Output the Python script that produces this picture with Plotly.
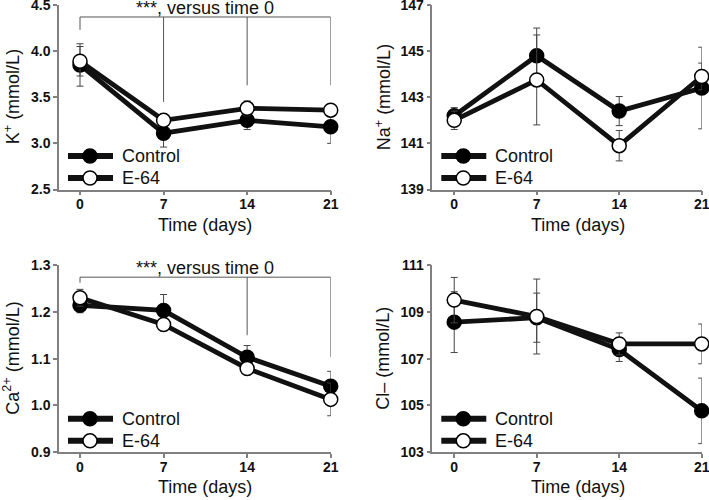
import plotly.graph_objects as go

# ---------------- data ----------------
days = [0, 7, 14, 21]
day_ticks = [0, 7, 14, 21]

k_control = [3.85, 3.11, 3.25, 3.18]
k_control_err = [0.23, 0.15, 0.10, 0.18]
k_e64 = [3.89, 3.25, 3.38, 3.36]
k_e64_err = [0.16, 0.05, 0.08, 0.05]

na_control = [142.2, 144.8, 142.4, 143.4]
na_control_err = [0.35, 1.2, 0.63, 1.77]
na_e64 = [142.0, 143.75, 140.9, 143.9]
na_e64_err = [0.4, 1.95, 0.66, 0.58]

ca_control = [1.214, 1.203, 1.103, 1.041]
ca_control_err = [0.016, 0.034, 0.025, 0.032]
ca_e64 = [1.230, 1.173, 1.079, 1.013]
ca_e64_err = [0.018, 0.012, 0.012, 0.035]

cl_control = [108.56, 108.75, 107.39, 104.77]
cl_control_err = [1.3, 1.05, 0.51, 1.4]
cl_e64 = [109.5, 108.8, 107.63, 107.63]
cl_e64_err = [0.97, 1.6, 0.47, 0.85]

k_ticks = [2.5, 3.0, 3.5, 4.0, 4.5]
k_ticklabels = ["2.5", "3.0", "3.5", "4.0", "4.5"]
na_ticks = [139, 141, 143, 145, 147]
ca_ticks = [0.9, 1.0, 1.1, 1.2, 1.3]
ca_ticklabels = ["0.9", "1.0", "1.1", "1.2", "1.3"]
cl_ticks = [103, 105, 107, 109, 111]

# significance brackets ("***, versus time 0")
k_bracket_level = 4.37
k_bracket_days = [0, 7, 14, 21]
k_bracket_ends = [4.23, 3.45, 3.63, 3.63]
ca_bracket_level = 1.274
ca_bracket_days = [0, 14, 21]
ca_bracket_ends = [1.262, 1.15, 1.104]
sig_text = "***, versus time 0"

series_names = ["Control", "E-64"]
series_fill = ["#000000", "#ffffff"]

# ---------------- layout geometry ----------------
W, H = 709, 500
FONT = "Liberation Sans, Arial, sans-serif"
INK = "#111111"
AXIS_GRAY = "#808080"
left_px = (59, 330.7)
right_px = (432.3, 701.7)
top_px = (5, 189.5)
bot_px = (265, 452.3)


def xdom(p):
    return [p[0] / W, p[1] / W]


def ydom(p):
    return [1 - p[1] / H, 1 - p[0] / H]


fig = go.Figure()

panels = [
    ("x", "y", k_control, k_control_err, k_e64, k_e64_err),
    ("x2", "y2", na_control, na_control_err, na_e64, na_e64_err),
    ("x3", "y3", ca_control, ca_control_err, ca_e64, ca_e64_err),
    ("x4", "y4", cl_control, cl_control_err, cl_e64, cl_e64_err),
]

for xa, ya, c, ce, e, ee in panels:
    for name, vals, errs, fill in [(series_names[0], c, ce, series_fill[0]),
                                   (series_names[1], e, ee, series_fill[1])]:
        fig.add_trace(go.Scatter(
            x=days, y=vals, name=name, xaxis=xa, yaxis=ya, showlegend=False,
            mode="lines+markers", cliponaxis=False,
            line=dict(color=INK, width=4.8),
            marker=dict(size=14, color=fill, line=dict(color="#000000", width=1.5)),
            error_y=dict(type="data", array=errs, visible=True, color="#444444",
                         thickness=1, width=3.5),
        ))

shapes = []
annotations = []

# brackets
for xr, yr, lvl, bdays, bends in [("x", "y", k_bracket_level, k_bracket_days, k_bracket_ends),
                                  ("x3", "y3", ca_bracket_level, ca_bracket_days, ca_bracket_ends)]:
    shapes.append(dict(type="line", xref=xr, yref=yr, x0=bdays[0], x1=bdays[-1], y0=lvl, y1=lvl,
                       line=dict(color="#555555", width=1)))
    for d, yend in zip(bdays, bends):
        shapes.append(dict(type="line", xref=xr, yref=yr, x0=d, x1=d, y0=lvl, y1=yend,
                           line=dict(color="#555555", width=1)))
    annotations.append(dict(text=sig_text, xref=xr, yref=yr, x=10.5, y=lvl, xanchor="center",
                            yanchor="bottom", showarrow=False, yshift=-2, borderpad=0,
                            font=dict(family=FONT, size=18, color=INK)))

# x axis titles
for xr, ypx in [("x", 225), ("x2", 225), ("x3", 487), ("x4", 487)]:
    annotations.append(dict(text="Time (days)", xref=xr, yref="paper", x=10.5, y=1 - ypx / H,
                            xanchor="center", yanchor="middle", showarrow=False,
                            font=dict(family=FONT, size=18, color=INK)))

# y axis titles
ytitles = [
    ("K<sup>+</sup> (mmol/L)", 12, (top_px[0] + top_px[1]) / 2),
    ("Na<sup>+</sup> (mmol/L)", 383, (top_px[0] + top_px[1]) / 2),
    ("Ca<sup>2+</sup> (mmol/L)", 12, (bot_px[0] + bot_px[1]) / 2),
    ("Cl– (mmol/L)", 383, (bot_px[0] + bot_px[1]) / 2),
]
for txt, xpx, ypx in ytitles:
    annotations.append(dict(text=txt, xref="paper", yref="paper", x=xpx / W, y=1 - ypx / H,
                            xanchor="center", yanchor="middle", textangle=-90, showarrow=False,
                            font=dict(family=FONT, size=18, color=INK)))

# legend keys (one per panel, lower-left corner)
for axpx, ybot in [(left_px[0], top_px[1]), (right_px[0], top_px[1]),
                   (left_px[0], bot_px[1]), (right_px[0], bot_px[1])]:
    for i, (name, fill) in enumerate(zip(series_names, series_fill)):
        rowpx = ybot - 33.5 + 22 * i
        yy = 1 - rowpx / H
        shapes.append(dict(type="line", xref="paper", yref="paper",
                           x0=(axpx + 9) / W, x1=(axpx + 54) / W, y0=yy, y1=yy,
                           line=dict(color=INK, width=6)))
        shapes.append(dict(type="circle", xref="paper", yref="paper",
                           x0=(axpx + 24) / W, x1=(axpx + 38) / W,
                           y0=yy - 7 / H, y1=yy + 7 / H,
                           fillcolor=fill, line=dict(color="#000000", width=1.5)))
        annotations.append(dict(text=name, xref="paper", yref="paper", x=(axpx + 61) / W, y=yy,
                                xanchor="left", yanchor="middle", showarrow=False,
                                font=dict(family=FONT, size=18, color=INK)))

axis_common = dict(showgrid=False, zeroline=False, showline=True, linecolor=AXIS_GRAY, linewidth=1.5,
                   ticks="outside", ticklen=4, tickcolor=AXIS_GRAY, tickwidth=1.5, automargin=False,
                   ticklabeloverflow="allow",
                   tickfont=dict(family=FONT, size=14, color=INK, weight="bold"))

layout = dict(
    template="none",
    width=W, height=H, margin=dict(l=0, r=0, t=0, b=0, pad=0),
    paper_bgcolor="white", plot_bgcolor="white",
    showlegend=False, shapes=shapes, annotations=annotations,
    font=dict(family=FONT, color=INK),
)

xspecs = [("xaxis", left_px, "y", -1.76), ("xaxis2", right_px, "y2", -1.86),
          ("xaxis3", left_px, "y3", -1.76), ("xaxis4", right_px, "y4", -1.86)]
for name, px, anchor, lo in xspecs:
    layout[name] = dict(domain=xdom(px), anchor=anchor, range=[lo, 21], tickvals=day_ticks,
                        ticklabelstandoff=-3, **axis_common)

yspecs = [("yaxis", top_px, "x", [2.5, 4.5], k_ticks, k_ticklabels),
          ("yaxis2", top_px, "x2", [139, 147], na_ticks, [str(v) for v in na_ticks]),
          ("yaxis3", bot_px, "x3", [0.9, 1.3], ca_ticks, ca_ticklabels),
          ("yaxis4", bot_px, "x4", [103, 111], cl_ticks, [str(v) for v in cl_ticks])]
for name, px, anchor, rng, tv, tt in yspecs:
    layout[name] = dict(domain=ydom(px), anchor=anchor, range=rng, tickvals=tv, ticktext=tt,
                        **axis_common)

fig.update_layout(**layout)
fig.write_html(
    "out.html",
    config={"displayModeBar": False},
    post_script="document.body.style.margin='0px';document.body.style.overflow='hidden';",
)
